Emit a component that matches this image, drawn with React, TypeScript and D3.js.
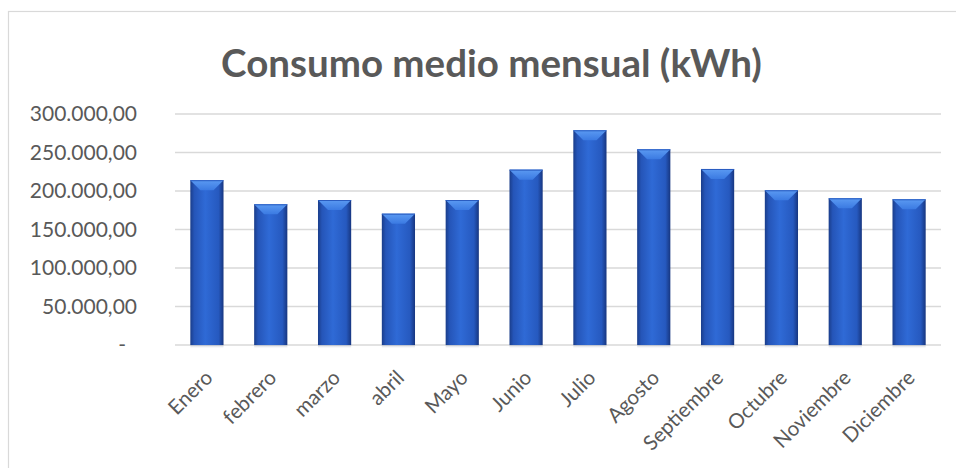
import React from "react";
import * as d3 from "d3";

const months = ["Enero", "febrero", "marzo", "abril", "Mayo", "Junio", "Julio", "Agosto", "Septiembre", "Octubre", "Noviembre", "Diciembre"];
const consumo = [214000, 182700, 188300, 170500, 188300, 227700, 278800, 254100, 228600, 200900, 190500, 189200];
const yTicks = [0, 50000, 100000, 150000, 200000, 250000, 300000];
const title = "Consumo medio mensual (kWh)";

const W = 956, H = 468;
const plot = { left: 175, right: 941, top: 114, bottom: 345 };
const FONT = "Lato, 'Open Sans', sans-serif";

const es = d3.formatLocale({ decimal: ",", thousands: ".", grouping: [3], currency: ["", ""] });
const fmt = es.format(",.2f");

export default function App() {
  const x = d3.scaleBand<string>().domain(months).range([plot.left, plot.right]).paddingInner(0.48).paddingOuter(0.24);
  const y = d3.scaleLinear().domain([0, 300000]).range([plot.bottom, plot.top]);
  const bw = x.bandwidth();
  const bevel = 10;

  return (
    <svg width={W} height={H} style={{ position: "absolute", left: 0, top: 0, background: "#fff" }}>
      <defs>
        <linearGradient id="barGrad" x1="0" x2="1" y1="0" y2="0">
          <stop offset="0" stopColor="#1a3d8a" />
          <stop offset="0.12" stopColor="#2555b8" />
          <stop offset="0.45" stopColor="#2f6ad6" />
          <stop offset="0.85" stopColor="#2659bf" />
          <stop offset="1" stopColor="#173680" />
        </linearGradient>
        <linearGradient id="bevelGrad" x1="0" x2="0" y1="0" y2="1">
          <stop offset="0" stopColor="#5b9af2" />
          <stop offset="1" stopColor="#3b7ae2" />
        </linearGradient>
        <linearGradient id="shadowGrad" x1="0" x2="0" y1="0" y2="1">
          <stop offset="0" stopColor="#9aa3b5" stopOpacity="0.6" />
          <stop offset="1" stopColor="#ffffff" stopOpacity="0" />
        </linearGradient>
      </defs>
      <rect x={8.5} y={11.5} width={1000} height={500} fill="#fff" stroke="#d9d9d9" strokeWidth={1.2} />
      <text x={491.5} y={77} textAnchor="middle" fontFamily={FONT} fontWeight={700} fontSize={38.5} fill="#595959">
        {title}
      </text>
      {yTicks.map((t) => (
        <g key={t}>
          <line x1={plot.left} x2={plot.right} y1={y(t)} y2={y(t)} stroke="#d9d9d9" strokeWidth={1.5} />
          <text
            x={t === 0 ? 126 : 137}
            y={y(t)}
            dy="0.35em"
            textAnchor="end"
            fontFamily={FONT}
            fontSize={21}
            fill="#595959"
          >
            {t === 0 ? "-" : fmt(t)}
          </text>
        </g>
      ))}
      {months.map((m, i) => {
        const x0 = x(m)!;
        const top = y(consumo[i]);
        const h = plot.bottom - top;
        return (
          <g key={m}>
            <rect x={x0} y={plot.bottom} width={bw} height={4} fill="url(#shadowGrad)" />
            <rect x={x0} y={top} width={bw} height={h} fill="url(#barGrad)" />
            <path
              d={`M${x0},${top} L${x0 + bw},${top} L${x0 + bw - bevel},${top + bevel} L${x0 + bevel},${top + bevel} Z`}
              fill="url(#bevelGrad)"
            />
            <line x1={x0} x2={x0 + bw} y1={top + 0.5} y2={top + 0.5} stroke="#2a5cc0" strokeWidth={1} />
          </g>
        );
      })}
      {months.map((m) => {
        const cx = x(m)! + bw / 2 + 7;
        const cy = plot.bottom + 34;
        return (
          <text
            key={m}
            transform={`translate(${cx},${cy}) rotate(-45)`}
            textAnchor="end"
            fontFamily={FONT}
            fontSize={20.5}
            fill="#595959"
          >
            {m}
          </text>
        );
      })}
    </svg>
  );
}
